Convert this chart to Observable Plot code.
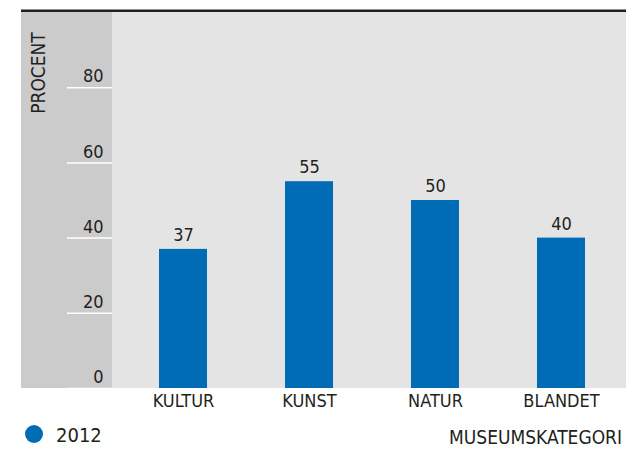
<!DOCTYPE html>
<html><head><meta charset="utf-8">
<script src="https://cdn.jsdelivr.net/npm/d3@7"></script>
<script src="https://cdn.jsdelivr.net/npm/@observablehq/plot@0.6"></script>
<style>
body{margin:0;background:#fff;}
#wrap{position:relative;width:628px;height:451px;font-family:"Liberation Sans Narrow","DejaVu Sans Condensed","Roboto Condensed",sans-serif;font-stretch:condensed;color:#231f20;}
#chart svg{display:block;}
.leg{position:absolute;line-height:1;white-space:nowrap;}
#dot{position:absolute;left:25px;top:425px;width:18px;height:18px;border-radius:50%;background:#006cb5;}
#ser{left:56px;top:425px;font-size:20px;}
#xl{right:6px;top:428px;font-size:19px;}
</style></head><body>
<div id="wrap"><div id="chart"></div><div id="dot"></div><div class="leg" id="ser"></div><div class="leg" id="xl"></div></div>
<script>
const categories = ["KULTUR", "KUNST", "NATUR", "BLANDET"];
const values2012 = [37, 55, 50, 40];
const yTicks = [0, 20, 40, 60, 80];
const seriesLabel = "2012";
const yLabel = "PROCENT";
const xLabel = "MUSEUMSKATEGORI";

const data = categories.map((c, i) => ({cat: c, value: values2012[i]}));
const font = '"Liberation Sans Narrow","DejaVu Sans Condensed","Roboto Condensed",sans-serif';

const plot = Plot.plot({
  width: 628, height: 420,
  marginTop: 12, marginBottom: 32, marginLeft: 112, marginRight: 2,
  style: {fontFamily: font, fontSize: "18px", color: "#231f20", background: "transparent", overflow: "visible"},
  x: {domain: categories, range: [159, 585], paddingInner: 0.619, paddingOuter: 0, round: false, label: null},
  y: {domain: [0, 100], label: null},
  marks: [
    Plot.barY(data, {x: "cat", y: "value", fill: "#006cb5"}),
    Plot.text(data, {x: "cat", y: "value", text: d => String(d.value), dy: -14, fontSize: 18, fill: "#231f20"}),
    Plot.axisY({ticks: yTicks, tickSize: 45, tickFormat: () => "", stroke: "#fff", strokeWidth: 1.5, label: null}),
    Plot.axisY({ticks: yTicks, tickSize: 0, tickPadding: 9, dy: -11, fontSize: 18, label: null}),
    Plot.axisX({tickSize: 0, tickPadding: 6, fontSize: 18, label: null})
  ]
});
document.getElementById("chart").appendChild(plot);

const ys = plot.scale("y");
const yTop = ys.apply(100), yBot = ys.apply(0);
const svg = d3.select(plot);
const bg = svg.insert("g", ":first-child");
bg.append("rect").attr("x", 21).attr("y", yTop).attr("width", 112 - 21).attr("height", yBot - yTop).attr("fill", "#cbcbcb");
bg.append("rect").attr("x", 112).attr("y", yTop).attr("width", 626 - 112).attr("height", yBot - yTop).attr("fill", "#e4e4e4");
bg.append("rect").attr("x", 21).attr("y", yTop - 2.5).attr("width", 626 - 21).attr("height", 2.5).attr("fill", "#231f20");
svg.append("text").text(yLabel)
  .attr("transform", `translate(38.5,${(yTop + 61).toFixed(1)}) rotate(-90)`)
  .attr("text-anchor", "middle").attr("dy", "0.35em")
  .attr("font-size", 19).attr("fill", "#231f20").attr("font-family", font);

document.getElementById("ser").textContent = seriesLabel;
document.getElementById("xl").textContent = xLabel;
</script>
</body></html>
